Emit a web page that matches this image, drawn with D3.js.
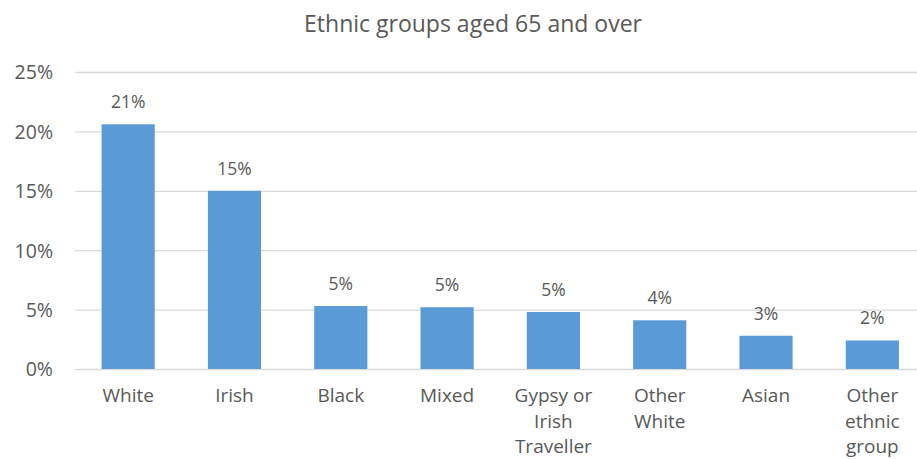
<!DOCTYPE html>
<html>
<head>
<meta charset="utf-8">
<script src="https://cdn.jsdelivr.net/npm/d3@7"></script>
<style>
  html, body { margin: 0; padding: 0; background: #fff; }
  svg text { font-family: "Open Sans", "DejaVu Sans", sans-serif; fill: #595959; }
</style>
</head>
<body>
<svg id="chart" width="917" height="459"></svg>
<script>
// Share of each ethnic group aged 65 and over
const categories = ["White", "Irish", "Black", "Mixed", "Gypsy or Irish Traveller", "Other White", "Asian", "Other ethnic group"];
const categoryLines = [["White"], ["Irish"], ["Black"], ["Mixed"], ["Gypsy or", "Irish", "Traveller"], ["Other", "White"], ["Asian"], ["Other", "ethnic", "group"]];
const values = [0.206, 0.150, 0.053, 0.052, 0.048, 0.041, 0.028, 0.024];
const yTicks = [0, 0.05, 0.10, 0.15, 0.20, 0.25];
const title = "Ethnic groups aged 65 and over";

const svg = d3.select("#chart");
const pct = d3.format(".0%");

const x = d3.scaleBand().domain(categories).range([75, 925.5]).paddingInner(0.5).paddingOuter(0.25);
const y = d3.scaleLinear().domain([0, 0.25]).range([369, 72]);

// title
svg.append("text")
  .attr("x", 473).attr("y", 32)
  .attr("text-anchor", "middle")
  .style("font-size", "23px")
  .text(title);

// horizontal gridlines
const yAxis = d3.axisLeft(y).tickValues(yTicks).tickFormat(pct).tickSize(-(925.5 - 75)).tickPadding(22);
const gy = svg.append("g").attr("transform", "translate(75,0)").call(yAxis);
gy.select(".domain").remove();
gy.selectAll(".tick line").attr("stroke", "#d9d9d9").attr("stroke-width", 1.3);
gy.selectAll(".tick text").style("font-size", "19.5px").attr("fill", "#595959").attr("dy", "0.35em");

// bars
svg.append("g").selectAll("rect")
  .data(values)
  .join("rect")
  .attr("x", (d, i) => x(categories[i]))
  .attr("y", d => y(d))
  .attr("width", x.bandwidth())
  .attr("height", d => y(0) - y(d))
  .attr("fill", "#5b9bd5");

// value labels
svg.append("g").selectAll("text")
  .data(values)
  .join("text")
  .attr("x", (d, i) => x(categories[i]) + x.bandwidth() / 2)
  .attr("y", d => y(d) - 16)
  .attr("text-anchor", "middle")
  .style("font-size", "17.5px")
  .text(d => pct(d));

// category labels (wrapped)
const xl = svg.append("g").selectAll("text")
  .data(categories)
  .join("text")
  .attr("x", d => x(d) + x.bandwidth() / 2)
  .attr("y", 402)
  .attr("text-anchor", "middle")
  .style("font-size", "19px");
xl.each(function(d, i) {
  const t = d3.select(this);
  categoryLines[i].forEach((line, j) => {
    t.append("tspan")
      .attr("x", x(d) + x.bandwidth() / 2)
      .attr("y", 402 + j * 25.5)
      .text(line);
  });
});
</script>
</body>
</html>
